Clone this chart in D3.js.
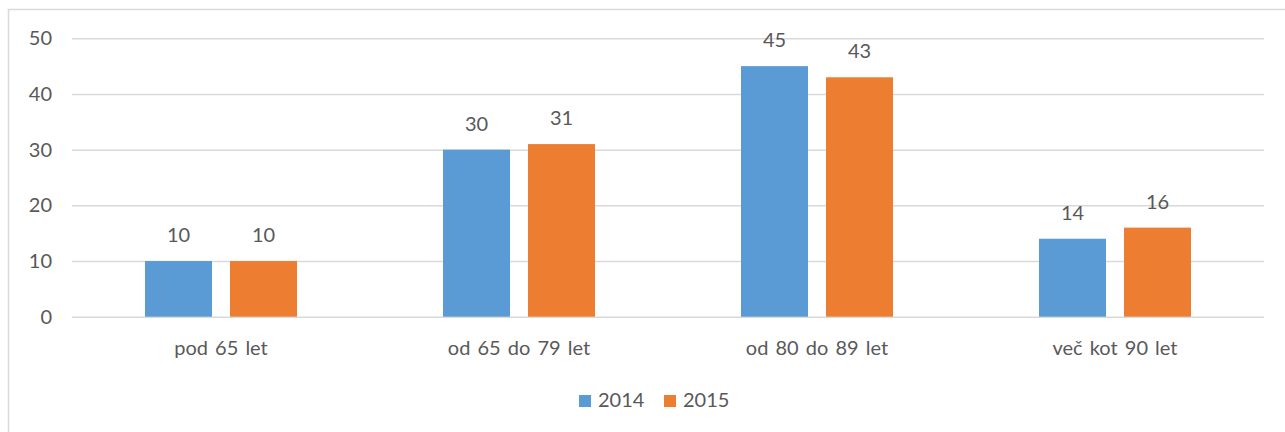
<!DOCTYPE html>
<html>
<head>
<meta charset="utf-8">
<script src="https://cdn.jsdelivr.net/npm/d3@7"></script>
<style>
  body { margin: 0; background: #fff; }
  text { font-family: Lato, "Open Sans", sans-serif; fill: #595959; }
</style>
</head>
<body>
<div id="viz"></div>
<script>
let categories = ['pod 65 let', 'od 65 do 79 let', 'od 80 do 89 let', 'več kot 90 let']
let seriesNames = ['2014', '2015']
let values2014 = [10, 30, 45, 14]
let values2015 = [10, 31, 43, 16]
let yTicks = [0, 10, 20, 30, 40, 50]
let colors = ['#5B9BD5', '#ED7D31']

let width = 1285
let height = 432
let margin = {left: 72, right: 21, top: 38.3, bottom: 115.3}

let svg = d3.select('#viz')
  .append('svg')
  .attr('width', width)
  .attr('height', height)

// chart area border (runs off right and bottom)
svg.append('rect')
  .attr('x', 8.5)
  .attr('y', 9.5)
  .attr('width', 1300)
  .attr('height', 500)
  .attr('fill', 'none')
  .attr('stroke', '#d9d9d9')
  .attr('stroke-width', 1.5)

let y = d3.scaleLinear()
  .domain([0, 50])
  .range([height - margin.bottom, margin.top])

let x0 = d3.scaleBand()
  .domain(categories)
  .range([margin.left, width - margin.right])

let x1 = d3.scaleBand()
  .domain(seriesNames)
  .range([0, x0.bandwidth()])
  .paddingInner(0.2118)
  .paddingOuter(0.8588)

// gridlines + tick labels
let yAxis = svg.append('g')
  .attr('transform', `translate(${margin.left},0)`)
  .call(d3.axisLeft(y).tickValues(yTicks).tickSize(-(width - margin.left - margin.right)).tickPadding(20))

yAxis.select('.domain').remove()
yAxis.selectAll('.tick line')
  .attr('stroke', '#d9d9d9')
  .attr('stroke-width', 1.5)
yAxis.selectAll('.tick text')
  .style('font-size', '20px')
  .attr('fill', '#595959')

let rows = categories.map((c, i) => ({
  cat: c,
  vals: [
    {name: seriesNames[0], v: values2014[i]},
    {name: seriesNames[1], v: values2015[i]}
  ]
}))

let groups = svg.selectAll('g.cat')
  .data(rows)
  .enter()
  .append('g')
  .attr('class', 'cat')
  .attr('transform', d => `translate(${x0(d.cat)},0)`)

groups.selectAll('rect')
  .data(d => d.vals)
  .enter()
  .append('rect')
  .attr('x', d => x1(d.name))
  .attr('y', d => y(d.v))
  .attr('width', x1.bandwidth())
  .attr('height', d => y(0) - y(d.v))
  .attr('fill', (d, i) => colors[i])

groups.selectAll('text.lbl')
  .data(d => d.vals)
  .enter()
  .append('text')
  .attr('class', 'lbl')
  .attr('x', d => x1(d.name) + x1.bandwidth() / 2)
  .attr('y', d => y(d.v) - 19)
  .attr('text-anchor', 'middle')
  .style('font-size', '20px')
  .text(d => d.v)

// category labels
svg.selectAll('text.catlbl')
  .data(categories)
  .enter()
  .append('text')
  .attr('class', 'catlbl')
  .attr('x', d => x0(d) + x0.bandwidth() / 2)
  .attr('y', 355)
  .attr('text-anchor', 'middle')
  .style('font-size', '20px')
  .style('word-spacing', '2px')
  .text(d => d)

// legend
let legendX = [579, 664]
let legend = svg.selectAll('g.legend')
  .data(seriesNames)
  .enter()
  .append('g')
  .attr('class', 'legend')
  .attr('transform', (d, i) => `translate(${legendX[i]},395)`)

legend.append('rect')
  .attr('width', 12)
  .attr('height', 12)
  .attr('fill', (d, i) => colors[i])

legend.append('text')
  .attr('x', 19)
  .attr('y', 12)
  .style('font-size', '20px')
  .text(d => d)
</script>
</body>
</html>
